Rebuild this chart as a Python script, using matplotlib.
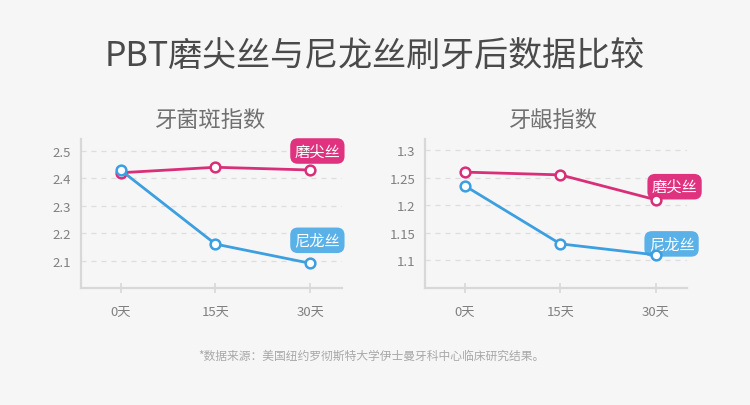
import matplotlib
matplotlib.use("Agg")
import matplotlib.pyplot as plt

plt.rcParams['font.family'] = ['Noto Sans CJK SC', 'DejaVu Sans']

title = "PBT磨尖丝与尼龙丝刷牙后数据比较"
categories = ["0天", "15天", "30天"]
series_names = ["磨尖丝", "尼龙丝"]

plaque_title = "牙菌斑指数"
plaque_pbt = [2.42, 2.44, 2.43]
plaque_nylon = [2.43, 2.16, 2.09]
plaque_ticks = [2.1, 2.2, 2.3, 2.4, 2.5]
plaque_ticklabels = ["2.1", "2.2", "2.3", "2.4", "2.5"]

gum_title = "牙龈指数"
gum_pbt = [1.26, 1.255, 1.21]
gum_nylon = [1.235, 1.13, 1.11]
gum_ticks = [1.1, 1.15, 1.2, 1.25, 1.3]
gum_ticklabels = ["1.1", "1.15", "1.2", "1.25", "1.3"]

footnote = "*数据来源：美国纽约罗彻斯特大学伊士曼牙科中心临床研究结果。"

BG = "#f6f6f6"
PINK = "#d92f78"
PINK_BOX = "#e0337f"
BLUE = "#3b9fe0"
BLUE_BOX = "#5ab1e8"
AXC = "#d8d8d8"

fig = plt.figure(figsize=(7.5, 4.06), dpi=100, facecolor=BG)
fig.text(0.5, 1 - 56 / 406, title, ha="center", va="center", fontsize=24.5, color="#4a4a4a")
fig.text(0.495, 1 - 356 / 406, footnote, ha="center", va="center", fontsize=8.5, color="#a8a8a8")


def panel(rect, sub, pbt, nylon, ticks, ticklabels, ylim, sub_x, pbt_off, ny_off):
    ax = fig.add_axes(rect, facecolor=BG)
    x = list(range(len(categories)))
    ax.plot(x, pbt, color=PINK, lw=2, marker="o", ms=7, mfc="white", mec=PINK, mew=1.8, zorder=7)
    ax.plot(x, nylon, color=BLUE, lw=2, marker="o", ms=7, mfc="white", mec=BLUE, mew=1.8, zorder=8)
    ax.set_xlim(-0.42, 2.33)
    ax.set_ylim(*ylim)
    ax.set_xticks(x)
    ax.set_xticklabels(categories)
    ax.set_yticks(ticks)
    ax.set_yticklabels(ticklabels)
    ax.grid(axis="y", color="#dedede", ls=(0, (4, 4)), lw=0.9)
    ax.set_axisbelow(True)
    for s in ["top", "right"]:
        ax.spines[s].set_visible(False)
    for s in ["left", "bottom"]:
        ax.spines[s].set_color(AXC)
        ax.spines[s].set_linewidth(1.6)
    ax.tick_params(axis="y", length=0, pad=7, labelsize=9.5, labelcolor="#808080")
    ax.tick_params(axis="x", direction="inout", length=7, width=1.2, color=AXC, pad=9,
                   labelsize=9.5, labelcolor="#808080")
    fig.text(sub_x, 1 - 120 / 406, sub, ha="center", va="center", fontsize=16,
             color="#707070", fontweight="medium")
    for vals, name, col, off in [(pbt, series_names[0], PINK_BOX, pbt_off),
                                 (nylon, series_names[1], BLUE_BOX, ny_off)]:
        ax.annotate(name, xy=(x[-1], vals[-1]), xytext=off, textcoords="offset pixels",
                    ha="center", va="center", fontsize=11, color="white", zorder=6,
                    bbox=dict(boxstyle="round,pad=0.28,rounding_size=0.5", fc=col, ec="none"))
    return ax


panel([80.7 / 750, 1 - 289 / 406, 261 / 750, 149 / 406], plaque_title, plaque_pbt, plaque_nylon,
      plaque_ticks, plaque_ticklabels, (2.0, 2.543), 211 / 750, (7, 19), (7, 23))
panel([425 / 750, 1 - 289 / 406, 262 / 750, 149 / 406], gum_title, gum_pbt, gum_nylon,
      gum_ticks, gum_ticklabels, (1.05, 1.32), 553 / 750, (19, 13), (16, 11))

fig.savefig("out.png", dpi=100, facecolor=BG)
